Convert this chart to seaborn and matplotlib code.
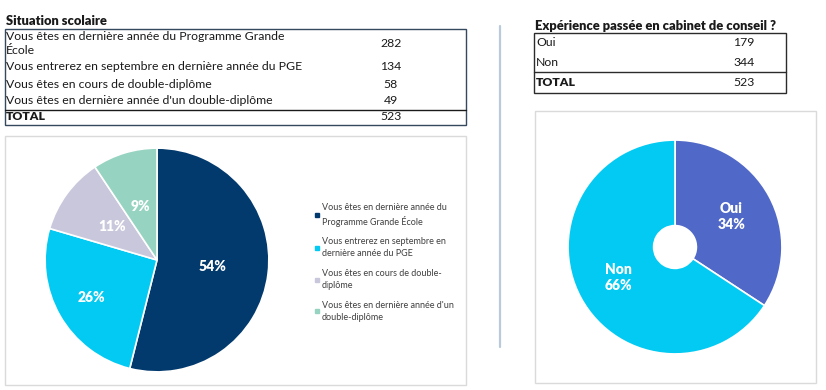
import matplotlib.pyplot as plt
import seaborn as sns
from matplotlib.patches import Rectangle
from matplotlib.lines import Line2D

# Data
scolaire_labels = [
    "Vous êtes en dernière année du Programme Grande\nÉcole",
    "Vous entrerez en septembre en dernière année du PGE",
    "Vous êtes en cours de double-diplôme",
    "Vous êtes en dernière année d'un double-diplôme",
]
scolaire_legend = [
    "Vous êtes en dernière année du\nProgramme Grande École",
    "Vous entrerez en septembre en\ndernière année du PGE",
    "Vous êtes en cours de double-\ndiplôme",
    "Vous êtes en dernière année d'un\ndouble-diplôme",
]
scolaire_counts = [282, 134, 58, 49]
scolaire_total = 523

conseil_labels = ["Oui", "Non"]
conseil_counts = [179, 344]
conseil_total = 523

scolaire_colors = ["#023A6E", "#03CAF2", "#C9C7DB", "#96D3C0"]
conseil_colors = ["#5068C8", "#03CAF2"]

sns.set_theme(style="white")
plt.rcParams["font.family"] = ["Lato", "DejaVu Sans"]

W, H = 826, 390
fig = plt.figure(figsize=(W / 100, H / 100), dpi=100)


def fx(x):
    return x / W


def fy(y):
    return 1 - y / H


def hline(x0, x1, y, color="#2b2b2b", lw=1.0):
    fig.add_artist(Line2D([fx(x0), fx(x1)], [fy(y), fy(y)], transform=fig.transFigure, color=color, lw=lw))


def box(x0, y0, x1, y1, color="#2b2b2b", lw=1.0):
    fig.add_artist(Rectangle((fx(x0), fy(y1)), (x1 - x0) / W, (y1 - y0) / H,
                             transform=fig.transFigure, fill=False, ec=color, lw=lw))


txt = "#1a1a1a"
fs = 8.8

# ---- Left table
fig.text(fx(6), fy(21), "Situation scolaire", fontsize=9.3, fontweight="heavy", color=txt, va="center")
box(5, 29, 466, 125, color="#34495e")
hline(5, 466, 110, color="#1a1a1a")
row_y = [43.5, 66, 84, 101]
for lab, val, y in zip(scolaire_labels, scolaire_counts, row_y):
    fig.text(fx(6), fy(y), lab, fontsize=fs, color=txt, va="center", linespacing=1.35)
    fig.text(fx(391), fy(y), str(val), fontsize=fs, color=txt, va="center", ha="center")
fig.text(fx(6), fy(117), "TOTAL", fontsize=fs, fontweight="heavy", color=txt, va="center")
fig.text(fx(391), fy(117), str(scolaire_total), fontsize=fs, color=txt, va="center", ha="center")

# ---- Right table
fig.text(fx(535), fy(26), "Expérience passée en cabinet de conseil ?", fontsize=9.3,
         fontweight="heavy", color=txt, va="center")
box(534, 33, 786, 93)
hline(534, 786, 72)
for lab, val, y in zip(conseil_labels, conseil_counts, [43, 63]):
    fig.text(fx(536), fy(y), lab, fontsize=fs, color=txt, va="center")
    fig.text(fx(744), fy(y), str(val), fontsize=fs, color=txt, va="center", ha="center")
fig.text(fx(536), fy(82), "TOTAL", fontsize=fs, fontweight="heavy", color=txt, va="center")
fig.text(fx(744), fy(82), str(conseil_total), fontsize=fs, color=txt, va="center", ha="center")

# ---- divider and chart frames
fig.add_artist(Line2D([fx(500), fx(500)], [fy(26), fy(347)], transform=fig.transFigure,
                      color="#B9CADC", lw=1.6))
box(5, 136, 466, 385, color="#DADADA")
box(535, 111, 816, 383, color="#DADADA")

# ---- Left pie
r1 = 113
ax1 = fig.add_axes([fx(157 - r1), fy(260 + r1), 2 * r1 / W, 2 * r1 / H])
wedges, _, autotexts = ax1.pie(
    scolaire_counts, colors=scolaire_colors, startangle=90, counterclock=False,
    autopct="%1.0f%%", pctdistance=0.5,
    wedgeprops=dict(edgecolor="white", linewidth=1.2),
    textprops=dict(color="white", fontweight="heavy", fontsize=10),
)
# Excel "best fit" pushes the 26% label outward
x, y = autotexts[1].get_position()
autotexts[1].set_position((x * 1.35, y * 1.35))
ax1.set_xlim(-1.01, 1.01)
ax1.set_ylim(-1.01, 1.01)
ax1.set_aspect("equal")
ax1.axis("off")

handles = [Line2D([], [], marker="s", ls="", color=c, markersize=3.5) for c in scolaire_colors]
leg = fig.legend(handles, scolaire_legend, loc="upper left", bbox_to_anchor=(fx(314), fy(203)),
                 frameon=False, fontsize=6.5, handlelength=0.6, handletextpad=0.3,
                 labelspacing=1.2, borderaxespad=0, borderpad=0, labelcolor="#404040")
for t in leg.get_texts():
    t.set_linespacing(1.4)

# ---- Right donut
r2 = 108
ax2 = fig.add_axes([fx(675 - r2), fy(247 + r2), 2 * r2 / W, 2 * r2 / H])
_, _, autotexts2 = ax2.pie(
    conseil_counts, colors=conseil_colors, startangle=90, counterclock=False,
    autopct="%1.0f%%", pctdistance=0.6,
    wedgeprops=dict(width=0.8, edgecolor="white", linewidth=1.2),
    textprops=dict(color="white", fontweight="heavy", fontsize=10),
)
for name, t in zip(conseil_labels, autotexts2):
    t.set_text(f"{name}\n{t.get_text()}")
    t.set_linespacing(1.3)
ax2.set_xlim(-1.01, 1.01)
ax2.set_ylim(-1.01, 1.01)
ax2.set_aspect("equal")
ax2.axis("off")

fig.savefig("out.png", dpi=100)
